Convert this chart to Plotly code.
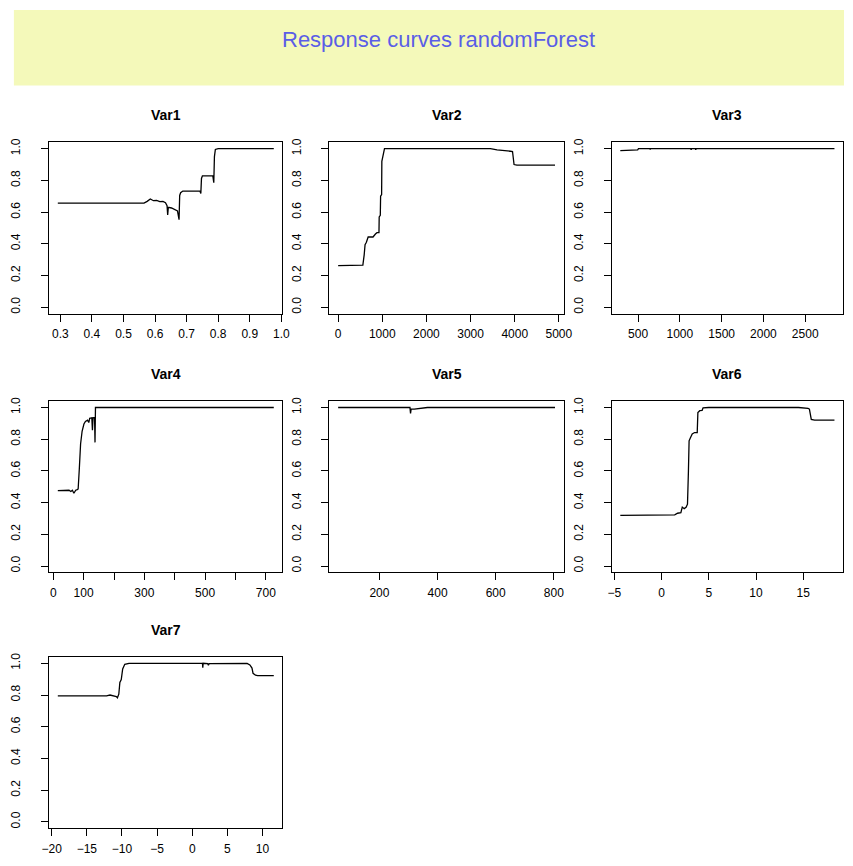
import plotly.graph_objects as go

# ---- response curve data (predictor value, predicted response) ----
var1_x = [0.292, 0.45, 0.55, 0.565, 0.575, 0.585, 0.595, 0.605, 0.615, 0.625, 0.633, 0.638, 0.640, 0.642,
          0.652, 0.662, 0.671, 0.676, 0.678, 0.681, 0.688, 0.742, 0.745, 0.747, 0.750, 0.783, 0.786, 0.788,
          0.791, 0.80, 0.976]
var1_y = [0.657, 0.656, 0.654, 0.657, 0.668, 0.683, 0.672, 0.674, 0.666, 0.668, 0.659, 0.640, 0.582, 0.630,
          0.626, 0.618, 0.608, 0.552, 0.705, 0.722, 0.733, 0.733, 0.718, 0.812, 0.829, 0.829, 0.786, 0.950,
          0.995, 1.0, 1.0]

var2_x = [0, 300, 450, 560, 590, 610, 640, 680, 790, 820, 845, 880, 925, 930, 955, 962, 985, 990, 1015,
          1050, 3450, 3600, 3900, 3950, 3985, 4050, 4913]
var2_y = [0.262, 0.262, 0.264, 0.266, 0.33, 0.395, 0.41, 0.443, 0.443, 0.455, 0.462, 0.47, 0.47, 0.57,
          0.58, 0.70, 0.71, 0.92, 0.965, 1.0, 1.0, 0.992, 0.984, 0.982, 0.90, 0.896, 0.896]

var3_x = [287, 490, 495, 505, 640, 645, 650, 1130, 1135, 1140, 1185, 1190, 1195, 2850]
var3_y = [0.988, 0.988, 0.992, 1.0, 1.0, 0.995, 1.0, 1.0, 0.993, 1.0, 1.0, 0.993, 1.0, 1.0]

var4_x = [15, 47, 52, 58, 63, 68, 74, 79, 82, 86, 90, 95, 101, 106, 113, 117, 120, 127, 129, 131, 136,
          137.5, 139, 726]
var4_y = [0.476, 0.476, 0.478, 0.470, 0.478, 0.459, 0.478, 0.482, 0.486, 0.62, 0.77, 0.85, 0.896, 0.912,
          0.92, 0.905, 0.932, 0.935, 0.857, 0.935, 0.937, 0.78, 1.0, 1.0]

var5_x = [58, 305, 307, 309, 320, 330, 345, 360, 365, 804]
var5_y = [1.0, 1.0, 0.962, 0.99, 0.99, 0.993, 0.994, 0.998, 1.0, 1.0]

var6_x = [-4.36, 0.0, 1.0, 1.4, 1.7, 2.05, 2.2, 2.4, 2.6, 2.75, 2.85, 2.92, 3.05, 3.25, 3.5, 3.78, 3.85,
          4.05, 4.3, 4.4, 5.0, 14.5, 15.5, 15.65, 15.85, 16.2, 18.3]
var6_y = [0.319, 0.319, 0.320, 0.323, 0.333, 0.337, 0.372, 0.362, 0.370, 0.39, 0.60, 0.79, 0.808, 0.833,
          0.842, 0.842, 0.968, 0.98, 0.982, 0.998, 1.0, 1.0, 0.995, 0.99, 0.925, 0.92, 0.92]

var7_x = [-19.13, -12.2, -11.7, -11.2, -10.8, -10.65, -10.45, -10.3, -10.1, -9.9, -9.6, -9.0, 1.45, 1.5,
          1.55, 2.2, 2.3, 2.4, 7.8, 8.2, 8.5, 8.65, 9.0, 9.3, 11.6]
var7_y = [0.795, 0.795, 0.800, 0.797, 0.790, 0.783, 0.805, 0.88, 0.897, 0.965, 0.994, 1.0, 1.0, 0.972,
          1.0, 0.998, 0.988, 0.998, 1.0, 0.99, 0.97, 0.937, 0.925, 0.922, 0.922]

panel_names = ["Var1", "Var2", "Var3", "Var4", "Var5", "Var6", "Var7"]
panel_x = [var1_x, var2_x, var3_x, var4_x, var5_x, var6_x, var7_x]
panel_y = [var1_y, var2_y, var3_y, var4_y, var5_y, var6_y, var7_y]

# x tick positions and labels per panel
x_tickvals = [
    [0.3, 0.4, 0.5, 0.6, 0.7, 0.8, 0.9, 1.0],
    [0, 1000, 2000, 3000, 4000, 5000],
    [500, 1000, 1500, 2000, 2500],
    [0, 100, 200, 300, 400, 500, 600, 700],
    [200, 400, 600, 800],
    [-5, 0, 5, 10, 15],
    [-20, -15, -10, -5, 0, 5, 10],
]
x_ticktext = [
    ["0.3", "0.4", "0.5", "0.6", "0.7", "0.8", "0.9", "1.0"],
    ["0", "1000", "2000", "3000", "4000", "5000"],
    ["500", "1000", "1500", "2000", "2500"],
    ["0", "100", "", "300", "", "500", "", "700"],
    ["200", "400", "600", "800"],
    ["\u22125", "0", "5", "10", "15"],
    ["\u221220", "\u221215", "\u221210", "\u22125", "0", "5", "10"],
]
y_tickvals = [0.0, 0.2, 0.4, 0.6, 0.8, 1.0]
y_ticktext = ["0.0", "0.2", "0.4", "0.6", "0.8", "1.0"]

W, H = 853, 866
# plot boxes in pixels: columns (left, right), rows (top, bottom)
cols = [(42, 280), (328, 567), (616, 852)]
rows = [(139, 311), (399, 571), (656, 828)]

FONT = "Liberation Sans, Arial, Helvetica, sans-serif"

fig = go.Figure()
layout = dict(
    width=W, height=H,
    margin=dict(l=0, r=0, t=0, b=0),
    paper_bgcolor="white", plot_bgcolor="white",
    showlegend=False,
    font=dict(family=FONT, color="black", size=12),
)

annotations = []
for i, name in enumerate(panel_names):
    r, c = divmod(i, 3)
    xs, ys = panel_x[i], panel_y[i]
    lo, hi = min(xs), max(xs)
    pad = 0.04 * (hi - lo)
    suffix = "" if i == 0 else str(i + 1)
    fig.add_trace(go.Scatter(
        x=xs, y=ys, mode="lines",
        line=dict(color="black", width=1.3),
        xaxis="x" + suffix, yaxis="y" + suffix,
        hoverinfo="skip",
    ))
    x0, x1 = cols[c]
    y0, y1 = rows[r]
    axis_common = dict(
        showline=True, linecolor="black", linewidth=1, mirror=True,
        showgrid=False, zeroline=False,
        ticks="outside", ticklen=7, tickwidth=1, tickcolor="black",
        tickfont=dict(family=FONT, size=12, color="black"),
        fixedrange=True,
    )
    layout["xaxis" + suffix] = dict(
        axis_common,
        domain=[x0 / W, x1 / W],
        anchor="y" + suffix,
        range=[lo - pad, hi + pad],
        tickmode="array", tickvals=x_tickvals[i], ticktext=x_ticktext[i],
        ticklabelstandoff=2,
    )
    layout["yaxis" + suffix] = dict(
        axis_common,
        domain=[1 - y1 / H, 1 - y0 / H],
        anchor="x" + suffix,
        range=[-0.04, 1.04],
        tickmode="array", tickvals=y_tickvals, ticktext=y_ticktext,
        tickangle=-90,
        ticklabelstandoff=16,
    )
    annotations.append(dict(
        text="<b>" + name + "</b>",
        x=(x0 + x1) / 2 / W, y=1 - (y0 - 27) / H,
        xref="paper", yref="paper", xanchor="center", yanchor="middle",
        showarrow=False, font=dict(family=FONT, size=14, color="black"),
    ))

# main title inside a pale yellow banner
annotations.append(dict(
    text="Response curves randomForest",
    x=439 / W, y=1 - 36 / H, xref="paper", yref="paper",
    xanchor="center", yanchor="middle", showarrow=False,
    font=dict(family=FONT, size=22, color="#5a5ee6"),
))
layout["annotations"] = annotations
layout["shapes"] = [dict(
    type="rect", xref="paper", yref="paper",
    x0=6 / W, x1=1, y0=1 - 82 / H, y1=1 - 6 / H,
    fillcolor="#f4f9ba", line=dict(width=0), layer="below",
)]

fig.update_layout(**layout)
fig.write_html("out.html")
